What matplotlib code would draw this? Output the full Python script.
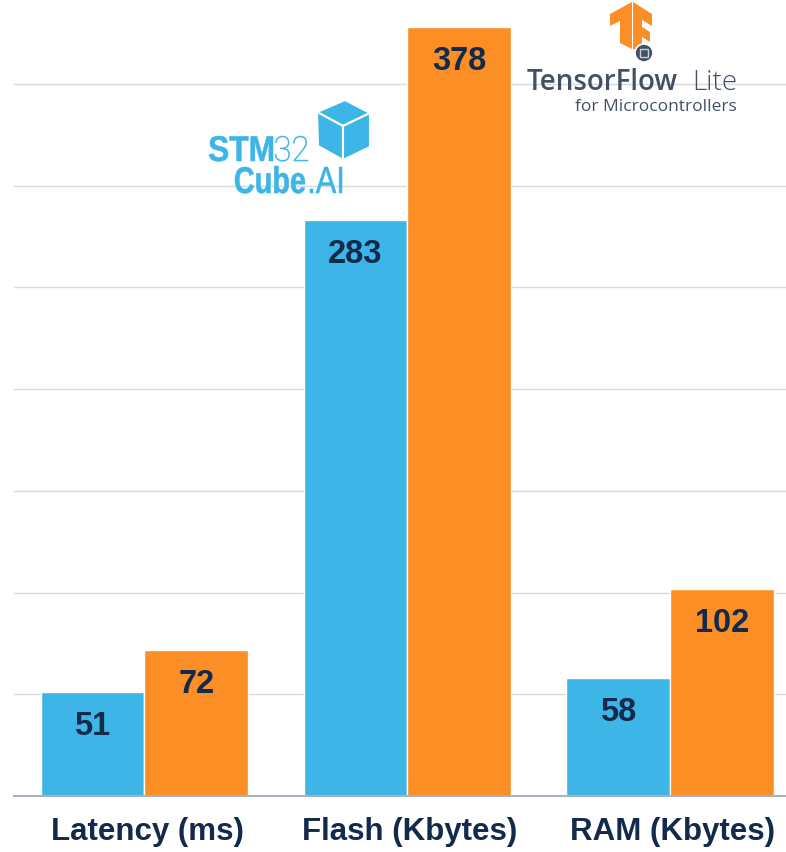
import matplotlib
matplotlib.use("Agg")
import matplotlib.pyplot as plt
import numpy as np
from matplotlib.patches import Polygon, Circle, Rectangle, PathPatch
from matplotlib.textpath import TextPath
from matplotlib.font_manager import FontProperties
from matplotlib.transforms import Affine2D

# ---- data ----
categories = ["Latency (ms)", "Flash (Kbytes)", "RAM (Kbytes)"]
stm32_vals = [51, 283, 58]
tflite_vals = [72, 378, 102]

BLUE = "#3db5e6"
ORANGE = "#fb8e24"
NAVY = "#132a4c"
GRAY_TF = "#425066"

W, H = 786, 853
fig = plt.figure(figsize=(W / 100, H / 100), dpi=100)

# main axes: left edge at 14px, bottom at 797px, top at 0
ax = fig.add_axes([14 / W, (H - 797) / H, 1 - 14 / W, 797 / H])
x = np.arange(len(categories))
bw = 0.395
ax.bar(x - bw / 2, stm32_vals, bw, color=BLUE, edgecolor="white", linewidth=1, zorder=3)
ax.bar(x + bw / 2, tflite_vals, bw, color=ORANGE, edgecolor="white", linewidth=1, zorder=3)

for xi, v in zip(x, stm32_vals):
    ax.text(xi - bw / 2, v - 16.5, str(v), ha="center", va="center",
            fontsize=23.5, fontweight="bold", color=NAVY, family="Liberation Sans", zorder=4)
for xi, v in zip(x, tflite_vals):
    ax.text(xi + bw / 2, v - 16.5, str(v), ha="center", va="center",
            fontsize=23.5, fontweight="bold", color=NAVY, family="Liberation Sans", zorder=4)

ax.set_xlim(-0.496, 2.44)
ax.set_ylim(0, 391.8)
ax.set_yticks(np.arange(50, 351, 50))
ax.yaxis.grid(True, color="#d9d9d9", linewidth=1, zorder=0)
ax.tick_params(left=False, labelleft=False, bottom=False, labelbottom=False)
for s in ["top", "right", "left"]:
    ax.spines[s].set_visible(False)
ax.spines["bottom"].set_color("#a7b1c2")
ax.spines["bottom"].set_linewidth(1.5)
ax.spines["bottom"].set_zorder(5)

for xi, c in zip(x, categories):
    ax.text(xi + 0.01, -17, c, ha="center", va="center", fontsize=22.5,
            fontweight="bold", color=NAVY, family="Liberation Sans", clip_on=False)

# ---- overlay in pixel coordinates for the logos ----
ov = fig.add_axes([0, 0, 1, 1], zorder=10)
ov.set_xlim(0, W)
ov.set_ylim(H, 0)
ov.axis("off")


def fit_text(s, x0, x1, ytop, ybase, color, family, weight="normal"):
    # text drawn as a path, squeezed to fit the logo box (condensed look)
    tp = TextPath((0, 0), s, size=100, prop=FontProperties(family=family, weight=weight))
    ext = tp.get_extents()
    sx = (x1 - x0) / ext.width
    sy = (ybase - ytop) / ext.y1
    tr = Affine2D().translate(-ext.x0, 0).scale(sx, -sy).translate(x0, ybase) + ov.transData
    ov.add_patch(PathPatch(tp, facecolor=color, edgecolor=color, linewidth=0.4, transform=tr))


# STM32 Cube.AI logo
fit_text("STM", 209, 273, 137, 162, BLUE, "Liberation Sans", "bold")
fit_text("32", 275, 308, 137, 162, BLUE, "Roboto", "light")
fit_text("Cube", 235, 305, 167, 194, BLUE, "Liberation Sans", "bold")
fit_text(".AI", 310, 342, 168, 194, BLUE, "Liberation Sans", "normal")

top = [(317, 113), (345, 101), (370, 114), (343, 127)]
left = [(317, 113), (343, 127), (343, 161), (318, 147)]
right = [(343, 127), (370, 114), (370, 148), (343, 161)]
for pts in (top, left, right):
    ov.add_patch(Polygon(pts, closed=True, facecolor=BLUE, edgecolor="white", linewidth=1.5))

# TensorFlow Lite logo
tf_left = [(610, 15), (632, 3), (632, 50), (620, 44), (620, 22), (610, 27)]
tf_right = [(633, 3), (652, 15), (652, 27), (642, 21), (642, 28), (650, 33),
            (650, 43), (642, 38), (642, 52), (633, 50)]
ov.add_patch(Polygon(tf_left, closed=True, facecolor=ORANGE, edgecolor="none"))
ov.add_patch(Polygon(tf_right, closed=True, facecolor=ORANGE, edgecolor="none"))
ov.add_patch(Circle((644, 54), 9, facecolor=GRAY_TF, edgecolor="white", linewidth=1.2))
ov.add_patch(Rectangle((640, 50), 8, 8, facecolor="none", edgecolor="#c8cdd6", linewidth=1))

ov.text(527, 90, "TensorFlow", fontsize=20, color=GRAY_TF, family="Open Sans",
        fontweight="semibold", va="baseline", ha="left")
ov.text(737, 90, "Lite", fontsize=20, color=GRAY_TF, family="Open Sans",
        fontweight="light", va="baseline", ha="right")
ov.text(737, 111, "for Microcontrollers", fontsize=12.5, color=GRAY_TF, family="Open Sans",
        va="baseline", ha="right")

plt.savefig("out.png", dpi=100)
print("Saved: out.png")
